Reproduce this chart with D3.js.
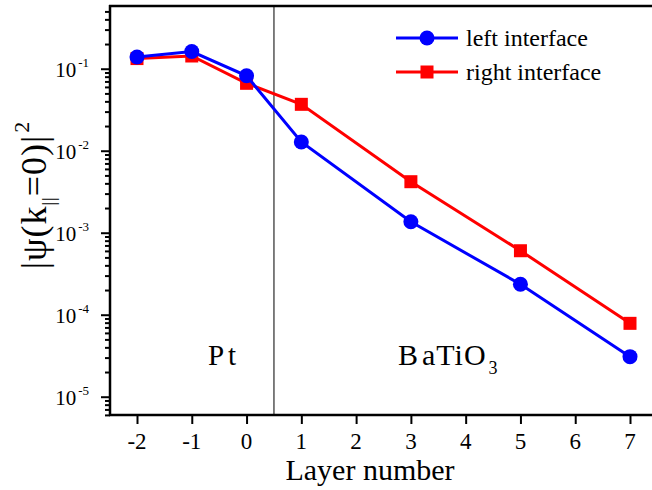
<!DOCTYPE html>
<html>
<head>
<meta charset="utf-8">
<script src="https://cdn.jsdelivr.net/npm/d3@7/dist/d3.min.js"></script>
<style>
  body { margin: 0; background: #fff; }
  text { font-family: "Liberation Serif", "Times New Roman", serif; fill: #000; }
</style>
</head>
<body>
<script>
// data
var layers = [-2, -1, 0, 1, 3, 5, 7];
var leftIface = [0.139, 0.162, 0.082, 0.0128, 0.00136, 0.000235, 0.0000308];
var rightIface = [0.133, 0.143, 0.0664, 0.0368, 0.00419, 0.000603, 0.0000785];
var xTicks = [-2, -1, 0, 1, 2, 3, 4, 5, 6, 7];
var yMajor = [-1, -2, -3, -4, -5];   // exponents
var divider = 0.5;

var w = 652, h = 490;
var padL = 110, padT = 6, padB = 415;

var svg = d3.select("body").append("svg")
  .attr("width", w)
  .attr("height", h);

var x = d3.scaleLinear().domain([-2, 7]).range([137, 630]);
var y = d3.scaleLog().domain([Math.pow(10, -5.223), Math.pow(10, -0.235)]).range([padB, padT]);

// minor ticks 2..9 x each decade
var yMinor = [];
for (var e = -6; e <= 0; e++) {
  for (var m = 2; m <= 9; m++) {
    var v = m * Math.pow(10, e);
    if (v >= y.domain()[0] && v <= y.domain()[1]) yMinor.push(v);
  }
}

// divider between Pt and BaTiO3
svg.append("line")
  .attr("x1", x(divider)).attr("x2", x(divider))
  .attr("y1", padT).attr("y2", padB)
  .attr("stroke", "#555").attr("stroke-width", 1.5);

// axes
var yAxisMinor = d3.axisLeft(y).tickValues(yMinor).tickSize(5).tickFormat("");
var yAxisMajor = d3.axisLeft(y).tickValues(yMajor.map(function(d){ return Math.pow(10, d); })).tickSize(9).tickFormat("");
svg.append("g").attr("transform", "translate(" + padL + ",0)").call(yAxisMinor)
  .call(function(g){ g.select(".domain").remove(); g.selectAll("line").attr("stroke-width", 2); });
svg.append("g").attr("transform", "translate(" + padL + ",0)").call(yAxisMajor)
  .call(function(g){ g.select(".domain").remove(); g.selectAll("line").attr("stroke-width", 2); });

var xAxis = d3.axisBottom(x).tickValues(xTicks).tickSize(9).tickFormat("");
svg.append("g").attr("transform", "translate(0," + padB + ")").call(xAxis)
  .call(function(g){ g.select(".domain").remove(); g.selectAll("line").attr("stroke-width", 2); });

// frame (left, bottom, top)
svg.append("line").attr("x1", padL).attr("x2", padL).attr("y1", padT - 1).attr("y2", padB + 1)
  .attr("stroke", "#000").attr("stroke-width", 2.5);
svg.append("line").attr("x1", padL - 1).attr("x2", w).attr("y1", padB).attr("y2", padB)
  .attr("stroke", "#000").attr("stroke-width", 2.5);
svg.append("line").attr("x1", padL - 1).attr("x2", w).attr("y1", padT).attr("y2", padT)
  .attr("stroke", "#000").attr("stroke-width", 2.5);

// tick labels
svg.selectAll(".xlab").data(xTicks).enter().append("text")
  .attr("class", "xlab")
  .attr("x", function(d){ return x(d); })
  .attr("y", 449)
  .attr("text-anchor", "middle")
  .attr("font-size", 23)
  .text(function(d){ return d < 0 ? "-" + Math.abs(d) : d; });

var ylab = svg.selectAll(".ylab").data(yMajor).enter().append("text")
  .attr("class", "ylab")
  .attr("x", 89)
  .attr("y", function(d){ return y(Math.pow(10, d)) + 8; })
  .attr("text-anchor", "end")
  .attr("font-size", 21);
ylab.append("tspan").text("10");
ylab.append("tspan").attr("dx", 2).attr("dy", -10).attr("font-size", 13).text(function(d){ return "-" + Math.abs(d); });

// axis titles
svg.append("text")
  .attr("x", 370).attr("y", 480)
  .attr("text-anchor", "middle")
  .attr("font-size", 30)
  .text("Layer number");

var yt = svg.append("text")
  .attr("transform", "translate(46,195) rotate(-90)")
  .attr("text-anchor", "middle")
  .attr("font-size", 36)
  .attr("letter-spacing", 1);
yt.append("tspan").text("|\u03c8(k");
yt.append("tspan").attr("font-size", 18).attr("dy", 9).text("||");
yt.append("tspan").attr("dy", -9).text("=0)|");
yt.append("tspan").attr("font-size", 22).attr("dy", -17).attr("dx", 2).text("2");

// region labels
svg.append("text")
  .attr("x", 224).attr("y", 365)
  .attr("text-anchor", "middle")
  .attr("font-size", 29)
  .attr("letter-spacing", 4)
  .text("Pt");
var bt = svg.append("text")
  .attr("x", 398).attr("y", 365)
  .attr("font-size", 30)
  .attr("letter-spacing", 1);
bt.append("tspan").text("B");
bt.append("tspan").attr("dx", 3).text("aTiO");
bt.append("tspan").attr("font-size", 18).attr("dy", 9).attr("dx", 2).text("3");

// series
var line = d3.line()
  .x(function(d, i){ return x(layers[i]); })
  .y(function(d){ return y(d); });

svg.append("path").datum(rightIface)
  .attr("d", line).attr("fill", "none")
  .attr("stroke", "#ff0000").attr("stroke-width", 3);
svg.selectAll(".sq").data(rightIface).enter().append("rect")
  .attr("class", "sq")
  .attr("x", function(d, i){ return x(layers[i]) - 6.5; })
  .attr("y", function(d){ return y(d) - 6.5; })
  .attr("width", 13).attr("height", 13)
  .attr("fill", "#ff0000");

svg.append("path").datum(leftIface)
  .attr("d", line).attr("fill", "none")
  .attr("stroke", "#0000ff").attr("stroke-width", 3);
svg.selectAll(".dot").data(leftIface).enter().append("circle")
  .attr("class", "dot")
  .attr("cx", function(d, i){ return x(layers[i]); })
  .attr("cy", function(d){ return y(d); })
  .attr("r", 7.5)
  .attr("fill", "#0000ff");

// legend
var legend = [
  { name: "left interface", color: "#0000ff", shape: "circle", y: 38 },
  { name: "right interface", color: "#ff0000", shape: "square", y: 72 }
];
var lg = svg.selectAll(".lg").data(legend).enter().append("g").attr("class", "lg");
lg.append("line")
  .attr("x1", 396).attr("x2", 458)
  .attr("y1", function(d){ return d.y; }).attr("y2", function(d){ return d.y; })
  .attr("stroke", function(d){ return d.color; }).attr("stroke-width", 3);
lg.each(function(d){
  var g = d3.select(this);
  if (d.shape === "circle") {
    g.append("circle").attr("cx", 427).attr("cy", d.y).attr("r", 7.5).attr("fill", d.color);
  } else {
    g.append("rect").attr("x", 427 - 6.5).attr("y", d.y - 6.5).attr("width", 13).attr("height", 13).attr("fill", d.color);
  }
});
lg.append("text")
  .attr("x", 466).attr("y", function(d){ return d.y + 8; })
  .attr("font-size", 24)
  .text(function(d){ return d.name; });
</script>
</body>
</html>
